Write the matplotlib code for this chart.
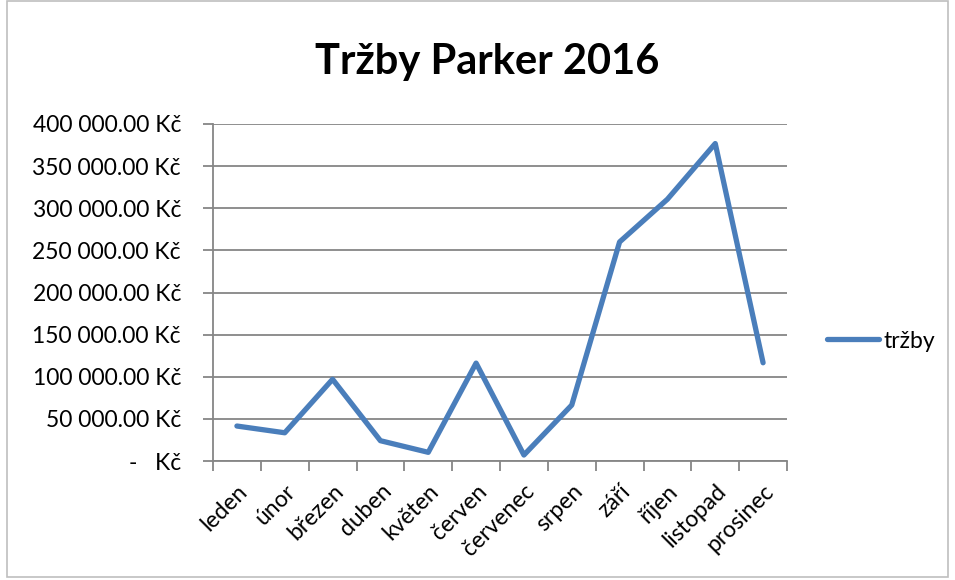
import matplotlib
matplotlib.use("Agg")
import matplotlib.pyplot as plt
from matplotlib.ticker import FuncFormatter, MultipleLocator
from matplotlib.patches import Rectangle

plt.rcParams['font.family'] = ['Lato', 'DejaVu Sans']

months = ['leden', 'únor', 'březen', 'duben', 'květen', 'červen',
          'červenec', 'srpen', 'září', 'říjen', 'listopad', 'prosinec']
trzby = [41500, 33500, 97000, 24100, 10300, 116200,
         7100, 66400, 260000, 310700, 376800, 116600]
title = 'Tržby Parker 2016'
series_name = 'tržby'

grid_col = '#868686'
line_col = '#4A7EBB'


def kc(v, pos):
    if v == 0:
        return '-   Kč'
    return '{:,.2f}'.format(v).replace(',', ' ') + ' Kč'


fig = plt.figure(figsize=(9.55, 5.8), dpi=100)
ax = fig.add_axes([213 / 955, 1 - 461 / 580, (787 - 213) / 955, (461 - 124) / 580])

x = list(range(len(months)))
ax.plot(x, trzby, color=line_col, lw=3.8, solid_capstyle='round',
        solid_joinstyle='round', label=series_name)

ax.set_xlim(-0.5, len(months) - 0.5)
ax.set_ylim(0, 400000)
ax.yaxis.set_major_locator(MultipleLocator(50000))
ax.yaxis.set_major_formatter(FuncFormatter(kc))
ax.grid(axis='y', color=grid_col, lw=1.3)
ax.set_axisbelow(True)

ax.set_xticks(x)
ax.set_xticklabels(months, rotation=45, ha='right', rotation_mode='anchor')
ax.set_xticks([i - 0.5 for i in range(len(months) + 1)], minor=True)
ax.tick_params(axis='x', which='major', length=0, pad=14, labelsize=16.5)
ax.tick_params(axis='x', which='minor', length=7, width=1.3, color=grid_col)
ax.tick_params(axis='y', length=7, width=1.3, color=grid_col, labelsize=16.5, pad=16)

for s in ['top', 'right']:
    ax.spines[s].set_visible(False)
for s in ['left', 'bottom']:
    ax.spines[s].set_color(grid_col)
    ax.spines[s].set_linewidth(1.3)

fig.text(0.51, 1 - 62 / 580, title, ha='center', va='center',
         fontsize=30, fontweight='bold')

fig.legend(loc='center left', bbox_to_anchor=(806 / 955, 1 - 341 / 580),
           frameon=False, fontsize=16.5, handlelength=2.27, handletextpad=0.2)

fig.patches.append(Rectangle((7 / 955, 3 / 580), 941 / 955, 576 / 580,
                             transform=fig.transFigure, fill=False,
                             edgecolor='#bfbfbf', lw=1.2))

fig.savefig('out.png', dpi=100)
